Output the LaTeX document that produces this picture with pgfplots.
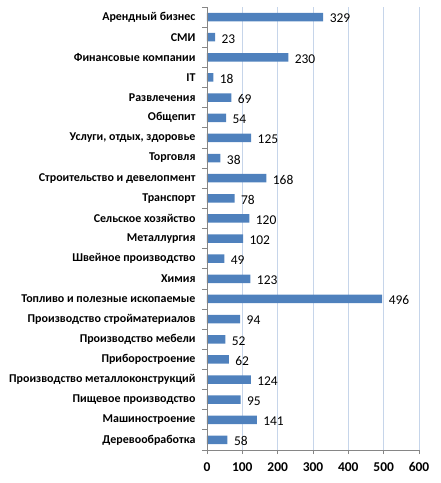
\documentclass[border=0pt]{standalone}
\usepackage{pgfplots}
\pgfplotsset{compat=1.18}
\usepackage{fontspec}
\setmainfont{Carlito}
\definecolor{barblue}{HTML}{4F81BD}
\definecolor{axgray}{HTML}{868686}
\definecolor{gridblue}{HTML}{C6D5EA}
\begin{document}
\begin{tikzpicture}[x=1bp,y=1bp]
\useasboundingbox (-207bp,-33bp) rectangle (234bp,450bp);
\begin{axis}[
  scale only axis,
  width=212bp, height=443bp,
  at={(0,0)}, anchor=south west,
  xbar, bar width=8.5bp,
  xmin=0, xmax=600, xtick={0,100,...,600},
  ymin=-0.5, ymax=21.5, y dir=reverse,
  ytick={0,...,21},
  yticklabels={Арендный бизнес,СМИ,Финансовые компании,IT,Развлечения,Общепит,{Услуги, отдых, здоровье},Торговля,Строительство и девелопмент,Транспорт,Сельское хозяйство,Металлургия,Швейное производство,Химия,Топливо и полезные ископаемые,Производство стройматериалов,Производство мебели,Приборостроение,Производство металлоконструкций,Пищевое производство,Машиностроение,Деревообработка},
  axis x line*=bottom, axis y line*=left,
  axis line style={axgray, line width=0.8bp},
  x axis line style={-}, y axis line style={-},
  xmajorgrids, grid style={gridblue, line width=0.7bp},
  major tick length=4bp,
  ytick style={draw=none},
  xtick style={axgray, line width=0.8bp},
  tick align=outside,
  every tick label/.append style={font=\bfseries\fontsize{12}{14}\selectfont, text=black},
  xticklabel style={yshift=-5bp, font=\bfseries\fontsize{13.5}{15}\selectfont},
  yticklabel style={xshift=-4bp},
  /pgf/number format/assume math mode=true,
  nodes near coords,
  every node near coord/.append style={font=\fontsize{13.5}{15}\selectfont, anchor=west, xshift=3bp, yshift=-1.5bp, text=black},
  clip=false,
]
\addplot[fill=barblue, draw=none] coordinates {
(329,0) (23,1) (230,2) (18,3) (69,4) (54,5) (125,6) (38,7) (168,8) (78,9) (120,10) (102,11) (49,12) (123,13) (496,14) (94,15) (52,16) (62,17) (124,18) (95,19) (141,20) (58,21)
};
\end{axis}
\begin{axis}[
  scale only axis,
  width=212bp, height=443bp,
  at={(0,0)}, anchor=south west,
  xmin=0, xmax=600, ymin=-0.5, ymax=21.5, y dir=reverse,
  axis x line=none, axis y line*=left,
  axis line style={axgray, line width=0.8bp}, y axis line style={-},
  ytick={-0.5,0.5,...,21.5}, yticklabels={},
  major tick length=5bp, tick align=outside,
  ytick style={axgray, line width=0.8bp},
]
\end{axis}
\end{tikzpicture}
\end{document}
